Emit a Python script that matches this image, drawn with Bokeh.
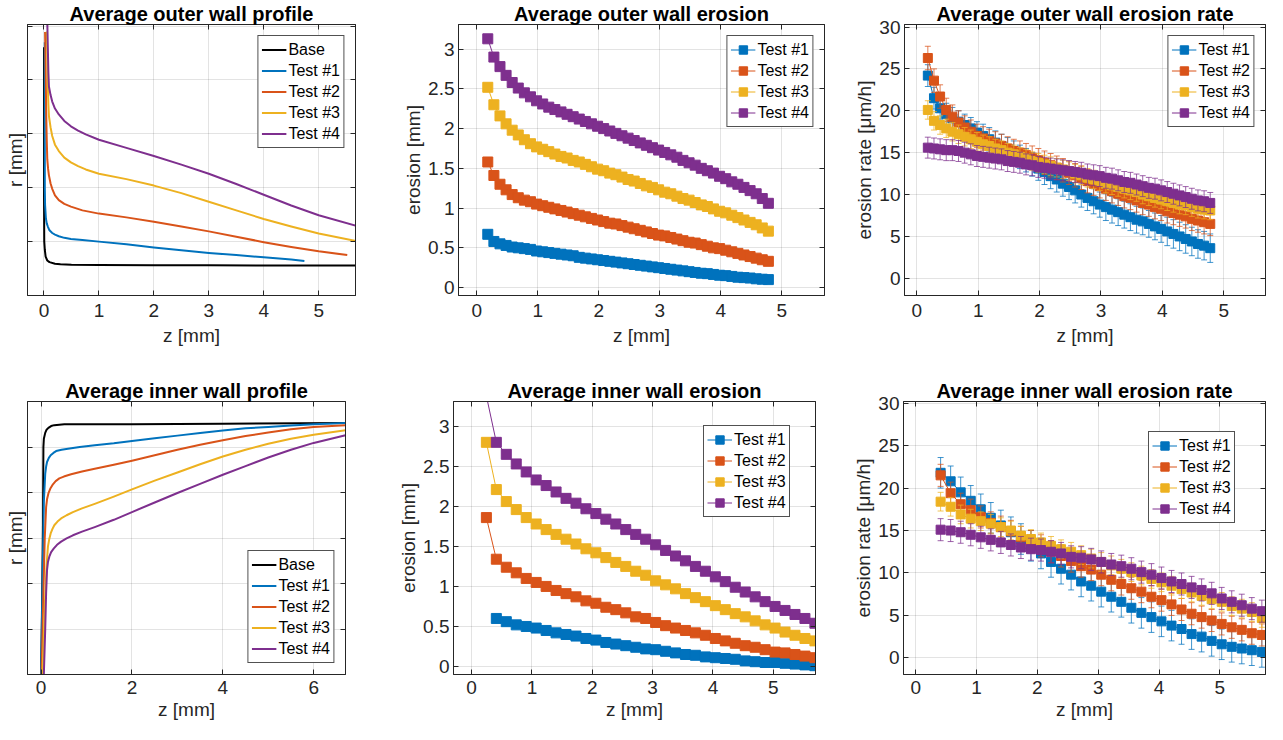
from bokeh.plotting import figure
from bokeh.models import Range1d, FixedTicker, LinearAxis, Legend, LegendItem, CustomJSTickFormatter
from bokeh.layouts import row, column
from bokeh.embed import file_html
from bokeh.resources import INLINE

# ---------------- data ----------------
SERIES = ["Test #1", "Test #2", "Test #3", "Test #4"]
COLORS = ["#0072BD", "#D95319", "#EDB120", "#7E2F8E"]

# outer wall profile (z [mm], r [mm]) -- r axis unlabeled
OP_BASE_Z = [0.0, 0.0, 0.005, 0.015, 0.03, 0.06, 0.1, 0.2, 0.3, 0.5, 1.0, 2.0, 3.0, 4.0, 5.0, 5.7]
OP_BASE_R = [4.61, 2.0, 1.0, 0.85, 0.72, 0.65, 0.62, 0.59, 0.58, 0.57, 0.565, 0.562, 0.56, 0.558, 0.556, 0.555]
OP_T1_Z = [0.015, 0.015, 0.02, 0.035, 0.05, 0.07, 0.1, 0.15, 0.2, 0.27, 0.37, 0.49, 0.7, 1.0, 1.5, 2.0,
           2.5, 3.0, 3.5, 4.0, 4.5, 4.74]
OP_T1_R = [4.7, 2.0, 1.68, 1.43, 1.34, 1.28, 1.21, 1.16, 1.13, 1.10, 1.07, 1.05, 1.03, 1.0, 0.95, 0.89,
           0.84, 0.79, 0.75, 0.71, 0.67, 0.64]
OP_T2_Z = [0.02, 0.03, 0.04, 0.05, 0.06, 0.075, 0.09, 0.12, 0.15, 0.2, 0.27, 0.37, 0.49, 0.7, 1.0, 1.5,
           2.0, 2.5, 3.0, 3.5, 4.0, 4.5, 5.0, 5.52]
OP_T2_R = [4.89, 4.2, 3.4, 2.9, 2.53, 2.35, 2.23, 2.08, 1.98, 1.86, 1.77, 1.70, 1.65, 1.58, 1.52, 1.45,
           1.37, 1.28, 1.19, 1.09, 0.99, 0.90, 0.82, 0.75]
OP_T3_Z = [0.05, 0.06, 0.07, 0.08, 0.09, 0.12, 0.15, 0.2, 0.27, 0.37, 0.49, 0.62, 0.76, 1.0, 1.5, 2.0,
           2.5, 3.0, 3.5, 4.0, 4.5, 5.0, 5.68]
OP_T3_R = [4.9, 4.5, 3.88, 3.55, 3.33, 3.12, 2.96, 2.80, 2.68, 2.56, 2.47, 2.40, 2.34, 2.26, 2.16, 2.04,
           1.90, 1.74, 1.58, 1.42, 1.28, 1.15, 1.01]
OP_T4_Z = [0.06, 0.07, 0.08, 0.09, 0.12, 0.15, 0.2, 0.27, 0.37, 0.49, 0.62, 0.76, 1.0, 1.5, 2.0, 2.5,
           3.0, 3.5, 4.0, 4.5, 5.0, 5.7]
OP_T4_R = [5.1, 4.6, 4.15, 3.88, 3.72, 3.60, 3.47, 3.36, 3.24, 3.14, 3.06, 2.99, 2.89, 2.74, 2.59, 2.43,
           2.26, 2.07, 1.87, 1.67, 1.49, 1.29]

# inner wall profile
IP_BASE_Z = [0.0, 0.02, 0.04, 0.05, 0.06, 0.09, 0.12, 0.16, 0.22, 0.29, 0.4, 0.51, 1.0, 2.0, 4.0, 6.7]
IP_BASE_R = [0.0, 1.5, 3.17, 5.0, 5.18, 5.31, 5.38, 5.42, 5.46, 5.48, 5.49, 5.50, 5.50, 5.50, 5.51, 5.53]
IP_T1_Z = [0.0, 0.03, 0.06, 0.09, 0.11, 0.13, 0.17, 0.21, 0.27, 0.33, 0.45, 0.59, 0.85, 1.18, 1.6, 2.0,
           2.5, 3.0, 3.5, 4.0, 4.5, 5.0, 5.5, 6.0, 6.7]
IP_T1_R = [0.0, 2.0, 3.8, 4.41, 4.57, 4.67, 4.76, 4.82, 4.87, 4.91, 4.94, 4.96, 5.0, 5.04, 5.08, 5.13,
           5.19, 5.25, 5.31, 5.36, 5.41, 5.44, 5.47, 5.50, 5.53]
IP_T2_Z = [0.01, 0.05, 0.08, 0.11, 0.13, 0.16, 0.2, 0.26, 0.32, 0.4, 0.5, 0.66, 0.9, 1.18, 1.6, 2.0,
           2.5, 3.0, 3.5, 4.0, 4.5, 5.0, 5.5, 6.0, 6.7]
IP_T2_R = [0.0, 1.8, 3.0, 3.68, 3.85, 3.98, 4.08, 4.18, 4.25, 4.31, 4.35, 4.40, 4.46, 4.52, 4.61, 4.70,
           4.82, 4.94, 5.05, 5.15, 5.24, 5.32, 5.39, 5.44, 5.48]
IP_T3_Z = [0.03, 0.08, 0.12, 0.15, 0.18, 0.21, 0.25, 0.29, 0.36, 0.44, 0.56, 0.7, 0.9, 1.18, 1.6, 2.0,
           2.5, 3.0, 3.5, 4.0, 4.5, 5.0, 5.5, 6.0, 6.7]
IP_T3_R = [0.0, 1.5, 2.4, 2.81, 2.98, 3.10, 3.20, 3.28, 3.36, 3.43, 3.50, 3.57, 3.65, 3.75, 3.91, 4.07,
           4.26, 4.44, 4.62, 4.79, 4.94, 5.07, 5.18, 5.27, 5.37]
IP_T4_Z = [0.06, 0.09, 0.11, 0.13, 0.15, 0.18, 0.22, 0.28, 0.35, 0.44, 0.56, 0.7, 0.9, 1.18, 1.6, 2.0,
           2.5, 3.0, 3.5, 4.0, 4.5, 5.0, 5.5, 6.0, 6.7]
IP_T4_R = [0.0, 1.0, 1.8, 2.30, 2.47, 2.59, 2.69, 2.77, 2.85, 2.92, 2.99, 3.06, 3.14, 3.24, 3.40, 3.57,
           3.78, 3.99, 4.19, 4.39, 4.58, 4.77, 4.94, 5.09, 5.26]

# outer wall: z positions
OUT_Z = [0.18, 0.28, 0.38, 0.48, 0.58, 0.68, 0.78, 0.88, 0.98,
         1.08, 1.18, 1.28, 1.38, 1.48, 1.58, 1.68, 1.78, 1.88, 1.98,
         2.08, 2.18, 2.28, 2.38, 2.48, 2.58, 2.68, 2.78, 2.88, 2.98,
         3.08, 3.18, 3.28, 3.38, 3.48, 3.58, 3.68, 3.78, 3.88, 3.98,
         4.08, 4.18, 4.28, 4.38, 4.48, 4.58, 4.68, 4.78]
# outer wall erosion [mm]
OE_T1 = [0.67, 0.58, 0.55, 0.53, 0.51, 0.50, 0.49, 0.48, 0.46,
         0.45, 0.44, 0.43, 0.42, 0.41, 0.40, 0.38, 0.37, 0.36, 0.35,
         0.34, 0.33, 0.32, 0.31, 0.30, 0.29, 0.28, 0.27, 0.26, 0.25,
         0.24, 0.23, 0.22, 0.21, 0.20, 0.19, 0.18, 0.175, 0.165, 0.155,
         0.15, 0.14, 0.13, 0.125, 0.12, 0.11, 0.105, 0.10]
OE_T2 = [1.58, 1.41, 1.30, 1.23, 1.17, 1.13, 1.10, 1.08, 1.05,
         1.03, 1.01, 0.99, 0.97, 0.95, 0.93, 0.91, 0.89, 0.87, 0.85,
         0.83, 0.81, 0.80, 0.78, 0.76, 0.74, 0.72, 0.70, 0.68, 0.66,
         0.65, 0.63, 0.61, 0.59, 0.57, 0.56, 0.54, 0.52, 0.50, 0.49,
         0.47, 0.45, 0.43, 0.41, 0.39, 0.37, 0.35, 0.33]
OE_T3 = [2.52, 2.30, 2.16, 2.06, 1.98, 1.92, 1.86, 1.81, 1.77,
         1.74, 1.71, 1.68, 1.65, 1.63, 1.60, 1.58, 1.55, 1.52, 1.49,
         1.47, 1.44, 1.42, 1.39, 1.36, 1.34, 1.31, 1.28, 1.26, 1.23,
         1.20, 1.18, 1.15, 1.12, 1.10, 1.07, 1.04, 1.02, 0.99, 0.96,
         0.94, 0.91, 0.88, 0.85, 0.82, 0.79, 0.75, 0.71]
OE_T4 = [3.13, 2.90, 2.78, 2.67, 2.58, 2.51, 2.45, 2.40, 2.35,
         2.31, 2.27, 2.24, 2.21, 2.18, 2.15, 2.12, 2.09, 2.06, 2.03,
         2.00, 1.97, 1.94, 1.91, 1.88, 1.85, 1.82, 1.79, 1.76, 1.73,
         1.70, 1.67, 1.64, 1.60, 1.57, 1.54, 1.50, 1.47, 1.44, 1.40,
         1.37, 1.33, 1.30, 1.26, 1.22, 1.18, 1.12, 1.06]
# outer wall erosion rate [um/h] and its error
OR_T1 = [24.2, 21.5, 20.3, 19.6, 19.1, 18.7, 18.3, 17.9, 17.4,
         17.0, 16.6, 16.2, 15.8, 15.4, 15.0, 14.5, 14.1, 13.6, 13.1,
         12.7, 12.2, 11.8, 11.3, 10.9, 10.5, 10.0, 9.6, 9.2, 8.8,
         8.5, 8.2, 7.9, 7.6, 7.3, 7.0, 6.8, 6.5, 6.2, 5.9,
         5.6, 5.3, 5.0, 4.7, 4.4, 4.1, 3.9, 3.6]
OR_T2 = [26.3, 23.6, 21.7, 20.1, 19.3, 18.6, 18.0, 17.5, 17.0,
         16.7, 16.4, 16.1, 15.8, 15.5, 15.2, 15.0, 14.7, 14.4, 14.1,
         13.8, 13.5, 13.2, 12.9, 12.6, 12.3, 12.0, 11.6, 11.3, 11.0,
         10.7, 10.4, 10.1, 9.8, 9.6, 9.3, 9.0, 8.8, 8.5, 8.3,
         8.0, 7.8, 7.6, 7.4, 7.1, 6.9, 6.7, 6.5]
OR_T3 = [20.1, 18.8, 18.3, 17.9, 17.5, 17.2, 16.9, 16.6, 16.3,
         16.0, 15.8, 15.5, 15.3, 15.0, 14.8, 14.5, 14.3, 14.0, 13.8,
         13.6, 13.4, 13.2, 13.0, 12.8, 12.5, 12.3, 12.0, 11.8, 11.6,
         11.3, 11.1, 10.9, 10.7, 10.5, 10.3, 10.0, 9.8, 9.6, 9.4,
         9.2, 9.0, 8.8, 8.7, 8.5, 8.3, 8.2, 8.1]
OR_T4 = [15.6, 15.5, 15.4, 15.3, 15.3, 15.2, 15.0, 14.8, 14.6,
         14.5, 14.4, 14.3, 14.2, 14.0, 13.9, 13.8, 13.6, 13.5, 13.3,
         13.2, 13.1, 13.0, 12.9, 12.8, 12.7, 12.6, 12.4, 12.3, 12.2,
         12.0, 11.9, 11.7, 11.5, 11.4, 11.2, 11.0, 10.8, 10.7, 10.5,
         10.3, 10.1, 9.9, 9.7, 9.5, 9.3, 9.2, 9.0]
OR_E1 = [1.3, 1.3, 1.3, 1.3, 1.3, 1.3, 1.3, 1.3, 1.3,
         1.4, 1.4, 1.4, 1.4, 1.4, 1.4, 1.4, 1.4, 1.4, 1.4,
         1.5, 1.5, 1.5, 1.5, 1.5, 1.5, 1.5, 1.5, 1.5, 1.5,
         1.6, 1.6, 1.6, 1.6, 1.6, 1.6, 1.6, 1.6, 1.6, 1.6,
         1.7, 1.7, 1.7, 1.7, 1.7, 1.7, 1.7, 1.7]
OR_E2 = [1.4, 1.4, 1.4, 1.4, 1.4, 1.4, 1.4, 1.4, 1.4,
         1.4, 1.4, 1.4, 1.4, 1.4, 1.4, 1.4, 1.4, 1.4, 1.4,
         1.4, 1.4, 1.4, 1.4, 1.4, 1.4, 1.4, 1.4, 1.4, 1.4,
         1.4, 1.4, 1.4, 1.4, 1.4, 1.4, 1.4, 1.4, 1.4, 1.4,
         1.4, 1.4, 1.4, 1.4, 1.4, 1.4, 1.4, 1.4]
OR_E3 = [1.1, 1.1, 1.1, 1.1, 1.1, 1.1, 1.1, 1.1, 1.1,
         1.1, 1.1, 1.1, 1.1, 1.1, 1.1, 1.1, 1.1, 1.1, 1.1,
         1.1, 1.1, 1.1, 1.1, 1.1, 1.1, 1.1, 1.1, 1.1, 1.1,
         1.1, 1.1, 1.1, 1.1, 1.1, 1.1, 1.1, 1.1, 1.1, 1.1,
         1.1, 1.1, 1.1, 1.1, 1.1, 1.1, 1.1, 1.1]
OR_E4 = [1.25, 1.25, 1.25, 1.25, 1.25, 1.25, 1.25, 1.25, 1.25,
         1.25, 1.25, 1.25, 1.25, 1.25, 1.25, 1.25, 1.25, 1.25, 1.25,
         1.25, 1.25, 1.25, 1.25, 1.25, 1.25, 1.25, 1.25, 1.25, 1.25,
         1.25, 1.25, 1.25, 1.25, 1.25, 1.25, 1.25, 1.25, 1.25, 1.25,
         1.25, 1.25, 1.25, 1.25, 1.25, 1.25, 1.25, 1.25]

# inner wall: z positions (Test #1 starts at the 2nd one)
IN_Z = [0.245, 0.41, 0.575, 0.74, 0.905, 1.07, 1.235, 1.4, 1.565, 1.73,
        1.895, 2.06, 2.225, 2.39, 2.555, 2.72, 2.885, 3.05, 3.215, 3.38,
        3.545, 3.71, 3.875, 4.04, 4.205, 4.37, 4.535, 4.7, 4.865, 5.03,
        5.195, 5.36, 5.525, 5.69]
IE_T1 = [0.60, 0.56, 0.52, 0.50, 0.48, 0.45, 0.42, 0.40, 0.38, 0.35,
         0.33, 0.30, 0.28, 0.26, 0.24, 0.22, 0.21, 0.19, 0.17, 0.15,
         0.14, 0.12, 0.11, 0.10, 0.09, 0.07, 0.06, 0.05, 0.05, 0.04,
         0.03, 0.02, 0.01]
IE_T2 = [1.86, 1.34, 1.24, 1.17, 1.10, 1.05, 1.00, 0.95, 0.91, 0.87,
         0.82, 0.79, 0.74, 0.71, 0.67, 0.62, 0.60, 0.55, 0.51, 0.48,
         0.45, 0.42, 0.39, 0.35, 0.32, 0.29, 0.26, 0.24, 0.21, 0.18,
         0.17, 0.15, 0.13, 0.11]
IE_T3 = [2.80, 2.21, 2.06, 1.96, 1.86, 1.78, 1.71, 1.65, 1.59, 1.53,
         1.47, 1.42, 1.36, 1.30, 1.25, 1.19, 1.14, 1.07, 1.02, 0.97,
         0.91, 0.86, 0.81, 0.76, 0.71, 0.66, 0.62, 0.57, 0.52, 0.48,
         0.43, 0.39, 0.35, 0.32]
IE_T4 = [3.38, 2.80, 2.65, 2.53, 2.43, 2.33, 2.26, 2.18, 2.10, 2.04,
         1.97, 1.91, 1.84, 1.78, 1.71, 1.65, 1.59, 1.52, 1.45, 1.38,
         1.32, 1.25, 1.19, 1.12, 1.06, 0.99, 0.93, 0.87, 0.81, 0.75,
         0.70, 0.65, 0.60, 0.54]
# inner wall erosion rate (all series start at the 2nd z position)
IR_T1 = [21.8, 20.8, 19.5, 18.5, 17.5, 16.5, 15.6, 14.8, 14.0, 13.2,
         12.3, 11.3, 10.5, 9.8, 9.0, 8.5, 7.8, 7.2, 6.6, 5.9,
         5.3, 4.8, 4.3, 3.8, 3.4, 2.8, 2.5, 2.0, 1.6, 1.3,
         1.1, 0.9, 0.7]
IR_T2 = [21.5, 19.4, 18.1, 17.4, 16.6, 15.9, 15.4, 14.9, 14.2, 13.7,
         13.2, 12.5, 12.0, 11.4, 10.8, 10.4, 9.8, 9.2, 8.7, 8.2,
         7.8, 7.2, 6.8, 6.3, 5.7, 5.2, 4.8, 4.4, 4.0, 3.6,
         3.3, 2.9, 2.7]
IR_T3 = [18.4, 17.8, 16.9, 16.4, 16.1, 15.8, 15.4, 15.0, 14.4, 14.0,
         13.6, 13.2, 12.8, 12.5, 12.1, 11.7, 11.3, 10.9, 10.5, 10.1,
         9.7, 9.3, 8.9, 8.5, 8.1, 7.7, 7.3, 6.9, 6.6, 6.1,
         5.8, 5.4, 4.7]
IR_T4 = [15.1, 15.0, 14.8, 14.5, 14.2, 13.9, 13.6, 13.3, 13.0, 12.8,
         12.7, 12.5, 12.3, 11.9, 11.8, 11.6, 11.3, 11.0, 10.8, 10.5,
         10.1, 9.8, 9.4, 9.0, 8.7, 8.3, 8.0, 7.6, 7.0, 6.6,
         6.2, 5.8, 5.5]
IR_E1 = [1.8, 1.8, 1.8, 1.8, 1.8, 1.8, 1.8, 1.8, 1.8, 1.8,
         1.8, 1.8, 1.8, 1.8, 1.8, 1.8, 1.8, 1.8, 1.8, 1.8,
         1.8, 1.8, 1.8, 1.8, 1.8, 1.8, 1.8, 1.8, 1.8, 1.8,
         1.8, 1.8, 1.8]
IR_E2 = [1.3, 1.3, 1.3, 1.3, 1.3, 1.3, 1.3, 1.3, 1.3, 1.3,
         1.3, 1.3, 1.3, 1.3, 1.3, 1.3, 1.3, 1.3, 1.3, 1.3,
         1.3, 1.3, 1.3, 1.3, 1.3, 1.3, 1.3, 1.3, 1.3, 1.3,
         1.3, 1.3, 1.3]
IR_E3 = [1.1, 1.1, 1.1, 1.1, 1.1, 1.1, 1.1, 1.1, 1.1, 1.1,
         1.1, 1.1, 1.1, 1.1, 1.1, 1.1, 1.1, 1.1, 1.1, 1.1,
         1.1, 1.1, 1.1, 1.1, 1.1, 1.1, 1.1, 1.1, 1.1, 1.1,
         1.1, 1.1, 1.1]
IR_E4 = [1.3, 1.3, 1.3, 1.3, 1.3, 1.3, 1.3, 1.3, 1.3, 1.3,
         1.3, 1.3, 1.3, 1.3, 1.3, 1.3, 1.3, 1.3, 1.3, 1.3,
         1.3, 1.3, 1.3, 1.3, 1.3, 1.3, 1.3, 1.3, 1.3, 1.3,
         1.3, 1.3, 1.3]

# ---------------- styling helpers ----------------
FONT = "Liberation Sans"
TXT = "#262626"
TICK_FMT = CustomJSTickFormatter(code="return String(Math.round(tick*100)/100);")
EMPTY_FMT = CustomJSTickFormatter(code="return '';")


def style_axis(ax, ticks, show_labels=True, label=None, standoff=5, lab_standoff=3):
    ax.ticker = FixedTicker(ticks=ticks)
    ax.major_tick_in = 5
    ax.major_tick_out = 0
    ax.minor_tick_line_color = None
    ax.axis_line_color = TXT
    ax.major_tick_line_color = TXT
    ax.major_label_text_font = FONT
    ax.major_label_text_color = TXT
    ax.major_label_standoff = standoff
    if show_labels:
        ax.formatter = TICK_FMT
        ax.major_label_text_font_size = "19px"
    else:
        ax.formatter = EMPTY_FMT
        ax.major_label_text_font_size = "0px"
    ax.axis_label = label
    ax.axis_label_text_font = FONT
    ax.axis_label_text_font_style = "normal"
    ax.axis_label_text_font_size = "19px"
    ax.axis_label_text_color = TXT
    ax.axis_label_standoff = lab_standoff


def make_fig(title, xr, yr, xticks, yticks, ylabel, width, height, bl, br, bt, bb,
             ylabels=True, x_standoffs=(5, 1)):
    p = figure(width=width, height=height, x_range=Range1d(*xr), y_range=Range1d(*yr),
               output_backend="svg", toolbar_location=None,
               min_border_left=bl, min_border_right=br, min_border_top=bt, min_border_bottom=bb)
    p.title.text = title
    p.title.text_font = FONT
    p.title.text_font_size = "20px"
    p.title.text_font_style = "bold"
    p.title.text_color = "#000000"
    p.title.align = "center"
    p.title.standoff = 0
    p.outline_line_color = TXT
    p.outline_line_width = 1
    p.background_fill_color = "white"
    p.border_fill_color = "white"
    style_axis(p.xaxis[0], xticks, True, "z [mm]", standoff=x_standoffs[0], lab_standoff=x_standoffs[1])
    if ylabels:
        style_axis(p.yaxis[0], yticks, True, ylabel, standoff=4, lab_standoff=1)
    else:
        style_axis(p.yaxis[0], yticks, False, ylabel, standoff=0, lab_standoff=2)
    ax_r = LinearAxis()
    style_axis(ax_r, yticks, False, None, standoff=0)
    p.add_layout(ax_r, "right")
    ax_t = LinearAxis()
    style_axis(ax_t, xticks, False, None, standoff=0)
    p.add_layout(ax_t, "above")
    for g in (p.xgrid[0], p.ygrid[0]):
        g.grid_line_color = TXT
        g.grid_line_alpha = 0.13
    p.xgrid[0].ticker = FixedTicker(ticks=xticks)
    p.ygrid[0].ticker = FixedTicker(ticks=yticks)
    return p


def add_legend(p, items, location):
    lg = Legend(items=items, location=location)
    lg.label_text_font = FONT
    lg.label_text_font_size = "16px"
    lg.label_text_color = "#000000"
    lg.glyph_width = 25
    lg.glyph_height = 21
    lg.label_height = 21
    lg.label_standoff = 2
    lg.spacing = 0
    lg.padding = 3
    lg.margin = 11
    lg.border_line_color = TXT
    lg.border_line_width = 1
    lg.border_line_alpha = 0.8
    lg.background_fill_color = "white"
    lg.background_fill_alpha = 1.0
    p.add_layout(lg)


def profile(p, zs, rs, names, colors, location):
    items = []
    for z, r, n, c in zip(zs, rs, names, colors):
        rr = p.line(z, r, line_color=c, line_width=2, line_join="round")
        items.append(LegendItem(label=n, renderers=[rr]))
    add_legend(p, items, location)


def series_plot(p, xs, ys, errs, size, location):
    items = []
    for x, y, e, c, n in zip(xs, ys, errs, COLORS, SERIES):
        if e is not None:
            lo = [a - b for a, b in zip(y, e)]
            hi = [a + b for a, b in zip(y, e)]
            p.segment(x0=x, y0=lo, x1=x, y1=hi, line_color=c, line_width=1, line_alpha=0.75)
            p.scatter(x, lo, marker="dash", size=6, line_color=c, line_alpha=0.75)
            p.scatter(x, hi, marker="dash", size=6, line_color=c, line_alpha=0.75)
        ln = p.line(x, y, line_color=c, line_width=1)
        sq = p.scatter(x, y, marker="square", size=size, fill_color=c, line_color=c)
        items.append(LegendItem(label=n, renderers=[ln, sq]))
    add_legend(p, items, location)


TOP_H, BOT_H = 377, 347
TOP_BT, TOP_BB = 22, 82
BOT_BT, BOT_BB = 24, 50
TOP_XS = (8, 5)
BOT_XS = (6, 2)

# ---- top row ----
p1 = make_fig("Average outer wall profile", (-0.3, 5.67), (0, 5.03), [0, 1, 2, 3, 4, 5], [1, 2, 3, 4, 5],
              "r [mm]", 400, TOP_H, 27, 45, TOP_BT, TOP_BB, ylabels=False, x_standoffs=TOP_XS)
profile(p1, [OP_BASE_Z, OP_T1_Z, OP_T2_Z, OP_T3_Z, OP_T4_Z],
        [OP_BASE_R, OP_T1_R, OP_T2_R, OP_T3_R, OP_T4_R],
        ["Base"] + SERIES, ["#000000"] + COLORS, "top_right")

p2 = make_fig("Average outer wall erosion", (-0.3, 5.7), (-0.1, 3.31), [0, 1, 2, 3, 4, 5],
              [0, 0.5, 1, 1.5, 2, 2.5, 3], "erosion [mm]", 450, TOP_H, 55, 26, TOP_BT, TOP_BB,
              x_standoffs=TOP_XS)
series_plot(p2, [OUT_Z] * 4, [OE_T1, OE_T2, OE_T3, OE_T4], [None] * 4, 10, "top_right")

p3 = make_fig("Average outer wall erosion rate", (-0.2, 5.68), (-2.05, 30.3), [0, 1, 2, 3, 4, 5],
              [0, 5, 10, 15, 20, 25, 30], "erosion rate [μm/h]", 417, TOP_H, 54, 2, TOP_BT, TOP_BB,
              x_standoffs=TOP_XS)
series_plot(p3, [OUT_Z] * 4, [OR_T1, OR_T2, OR_T3, OR_T4], [OR_E1, OR_E2, OR_E3, OR_E4], 9, "top_right")

# ---- bottom row ----
p4 = make_fig("Average inner wall profile", (-0.3, 6.7), (0, 6), [0, 2, 4, 6], [1, 2, 3, 4, 5],
              "r [mm]", 395, BOT_H, 27, 50, BOT_BT, BOT_BB, ylabels=False, x_standoffs=BOT_XS)
profile(p4, [IP_BASE_Z, IP_T1_Z, IP_T2_Z, IP_T3_Z, IP_T4_Z],
        [IP_BASE_R, IP_T1_R, IP_T2_R, IP_T3_R, IP_T4_R],
        ["Base"] + SERIES, ["#000000"] + COLORS, "bottom_right")

p5 = make_fig("Average inner wall erosion", (-0.3, 5.7), (-0.1, 3.31), [0, 1, 2, 3, 4, 5],
              [0, 0.5, 1, 1.5, 2, 2.5, 3], "erosion [mm]", 455, BOT_H, 54, 35, BOT_BT, BOT_BB,
              x_standoffs=BOT_XS)
series_plot(p5, [IN_Z[1:], IN_Z, IN_Z, IN_Z], [IE_T1, IE_T2, IE_T3, IE_T4], [None] * 4, 10, (250, 157))

p6 = make_fig("Average inner wall erosion rate", (-0.2, 5.75), (-1.96, 30.2), [0, 1, 2, 3, 4, 5],
              [0, 5, 10, 15, 20, 25, 30], "erosion rate [μm/h]", 417, BOT_H, 53, 2, BOT_BT, BOT_BB,
              x_standoffs=BOT_XS)
series_plot(p6, [IN_Z[1:]] * 4, [IR_T1, IR_T2, IR_T3, IR_T4], [IR_E1, IR_E2, IR_E3, IR_E4], 9, (245, 151))

layout = column(row(p1, p2, p3), row(p4, p5, p6))
open("out.html", "w").write(file_html(layout, INLINE))
